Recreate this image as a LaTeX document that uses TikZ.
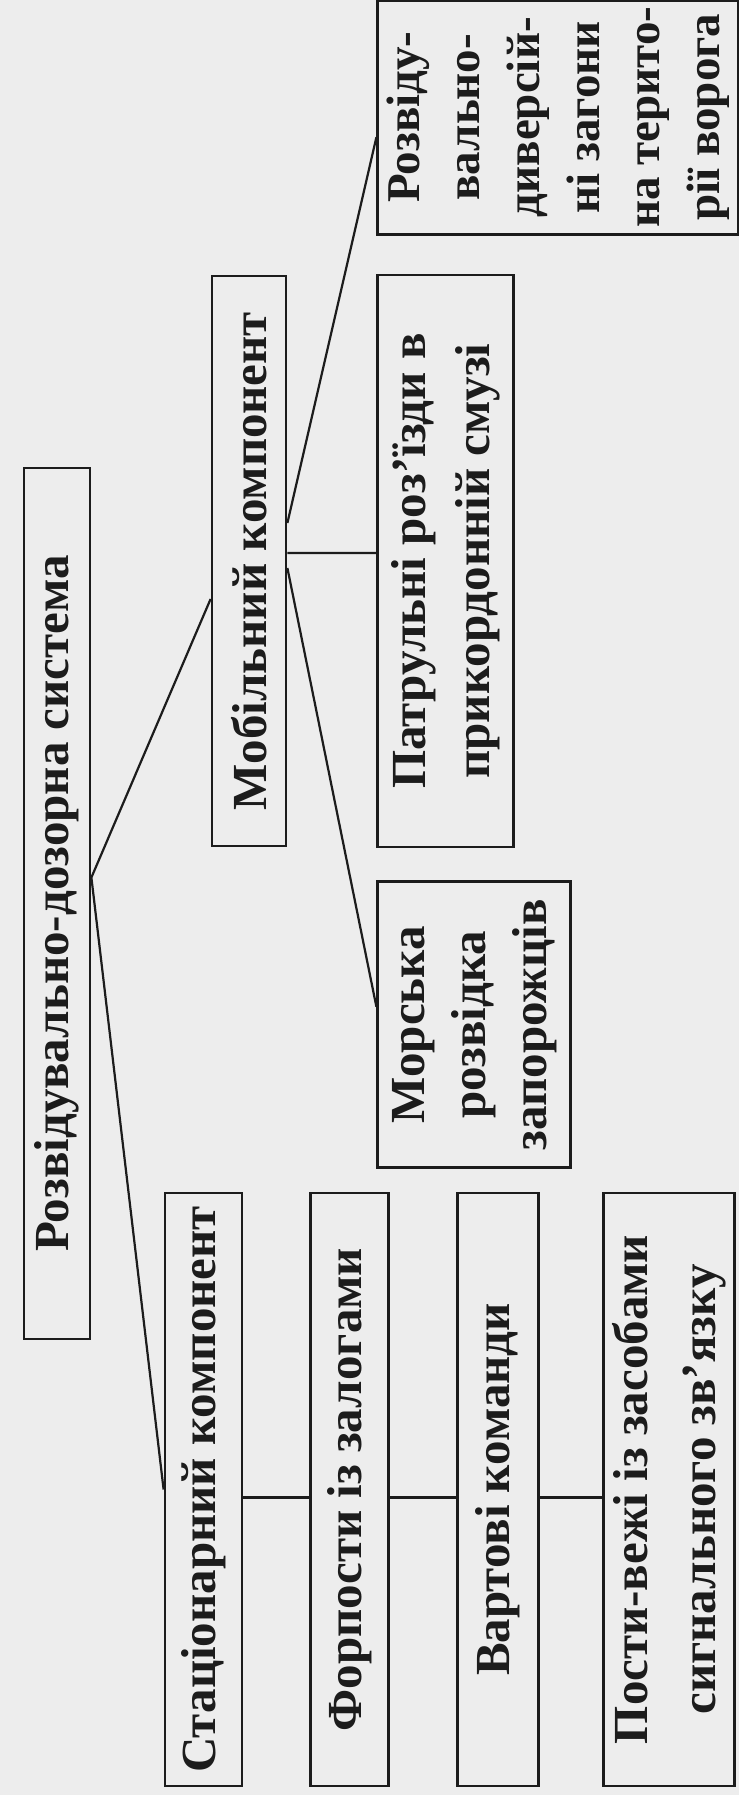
\documentclass[tikz,border=0pt]{standalone}
\usepackage{fontspec}
\setmainfont{Liberation Serif}
\usetikzlibrary{positioning}
\definecolor{paper}{RGB}{237,237,237}
\definecolor{ink}{RGB}{28,28,28}
\tikzset{
        box/.style={draw=ink, line width=1.4pt, inner sep=2pt, align=center, text=ink,
            font=\fontsize{24.5pt}{30.5pt}\selectfont\bfseries}, % every frame of the scheme
        conn/.style={draw=ink, line width=1.1pt}, % lines between the frames
    }

\begin{document}
\begin{tikzpicture}[x=0.5pt, y=0.5pt]
    \fill[paper] (0,0) rectangle (739,1795);
    \useasboundingbox (0,0) rectangle (739,1795);
  % the scheme is laid out lying on its side and turned upright
  \begin{scope}[rotate=90, transform shape]
    \node[box, minimum width=435.5pt, minimum height=33pt] (system) at (891.5,-57) {Розвідувально-дозорна система};
    \node[box, minimum width=285pt, minimum height=37pt] (mob) at (1234,-249) {Мобільний компонент};
    \node[box, minimum width=296.5pt, minimum height=38.5pt] (stat) at (305.5,-203.5) {Стаціонарний компонент};
    \node[box, minimum width=296.5pt, minimum height=39pt, below=33pt of stat] (fort) {Форпости із залогами};
    \node[box, minimum width=296.5pt, minimum height=40.5pt, below=33pt of fort] (vart) {Вартові команди};
    \node[box, minimum width=296.5pt, minimum height=65.5pt, below=31pt of vart,
      font=\fontsize{24.5pt}{34pt}\selectfont\bfseries] (posty) {Пости-вежі із засобами\\сигнального зв’язку};
    \node[box, minimum width=286pt, minimum height=68pt, below=44.5pt of mob,
      font=\fontsize{24.5pt}{32pt}\selectfont\bfseries] (patrol) {Патрульні роз’їзди в\\прикордонній смузі};
    \node[box, minimum width=143pt, minimum height=96.5pt, below left=0pt and 16pt of patrol.north west] (morska) {Морська\\розвідка\\запорожців};
    \node[box, inner xsep=0pt, minimum width=117pt, minimum height=180.5pt, below right=0pt and 19pt of patrol.north east,
      font=\fontsize{23.5pt}{30pt}\selectfont\bfseries] (rozv) {Розвіду-\\вально-\\диверсій-\\ні загони\\на терито-\\рії ворога};
    \coordinate (sysfork) at ([xshift=13pt]system.south);
    \draw[conn]
      (sysfork) -- ([xshift=-19pt]mob.north)
      (sysfork) -- (stat.north)
      ([xshift=19pt]mob.south) -- ([xshift=-10pt]rozv.north)
      ([xshift=4pt]mob.south) -- ([xshift=4pt]patrol.north)
      ([xshift=-3.5pt]mob.south) -- ([xshift=9pt]morska.north);
    \foreach \a/\b in {stat/fort, fort/vart, vart/posty}
      \draw[conn] ([xshift=-4pt]\a.south) -- ([xshift=-4pt]\b.north);
  \end{scope}
\end{tikzpicture}
\end{document}
